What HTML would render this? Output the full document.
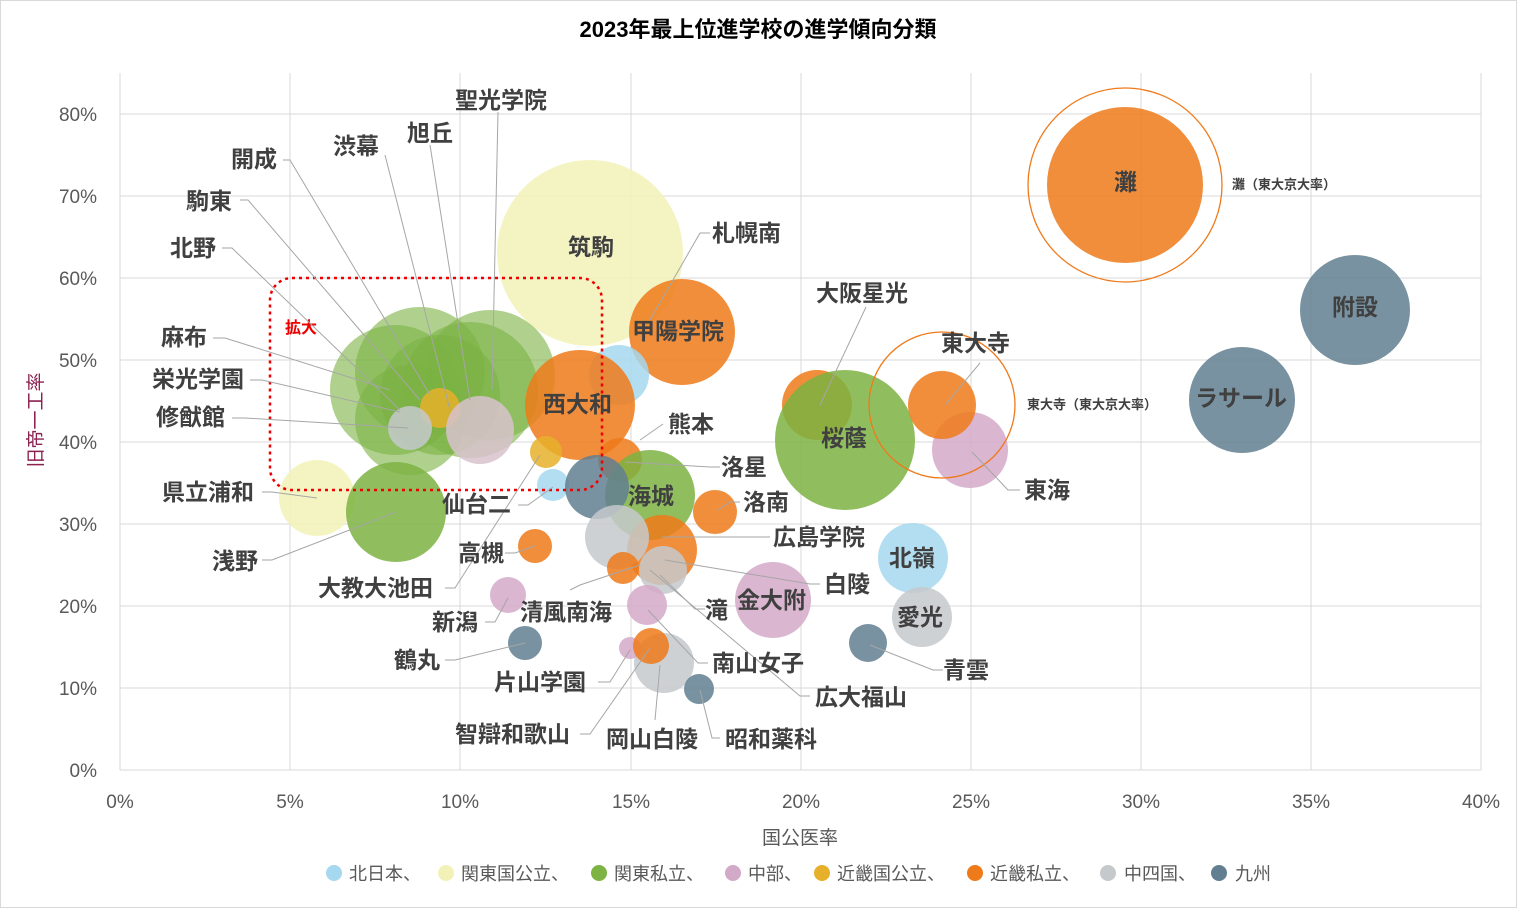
<!DOCTYPE html>
<html><head><meta charset="utf-8"><style>
html,body{margin:0;padding:0;background:#fff;}
svg{display:block;font-family:"Liberation Sans","Noto Sans CJK JP",sans-serif;}
.t{font-size:19px;fill:#595959;}
.l{font-size:23px;font-weight:bold;fill:#404040;}
.ln{stroke:#a6a6a6;stroke-width:1;fill:none;}
</style></head><body>
<svg width="1517" height="908" viewBox="0 0 1517 908">
<rect x="0.5" y="0.5" width="1516" height="907" fill="#fff" stroke="#d9d9d9"/>
<text x="758" y="37" text-anchor="middle" font-size="22" font-weight="bold" fill="#000">2023年最上位進学校の進学傾向分類</text>
<g stroke="#d9d9d9" stroke-width="1">
<line x1="120" y1="114" x2="1481" y2="114"/><line x1="120" y1="196" x2="1481" y2="196"/>
<line x1="120" y1="278" x2="1481" y2="278"/><line x1="120" y1="360" x2="1481" y2="360"/>
<line x1="120" y1="442" x2="1481" y2="442"/><line x1="120" y1="524" x2="1481" y2="524"/>
<line x1="120" y1="606" x2="1481" y2="606"/><line x1="120" y1="688" x2="1481" y2="688"/>
<line x1="120" y1="770" x2="1481" y2="770"/>
<line x1="120" y1="73" x2="120" y2="770"/><line x1="290" y1="73" x2="290" y2="770"/>
<line x1="460" y1="73" x2="460" y2="770"/><line x1="631" y1="73" x2="631" y2="770"/>
<line x1="801" y1="73" x2="801" y2="770"/><line x1="971" y1="73" x2="971" y2="770"/>
<line x1="1141" y1="73" x2="1141" y2="770"/><line x1="1311" y1="73" x2="1311" y2="770"/>
<line x1="1481" y1="73" x2="1481" y2="770"/>
</g>
<g class="t" text-anchor="end">
<text x="97" y="121">80%</text><text x="97" y="203">70%</text><text x="97" y="285">60%</text>
<text x="97" y="367">50%</text><text x="97" y="449">40%</text><text x="97" y="531">30%</text>
<text x="97" y="613">20%</text><text x="97" y="695">10%</text><text x="97" y="777">0%</text>
</g>
<g class="t" text-anchor="middle">
<text x="120" y="808">0%</text><text x="290" y="808">5%</text><text x="460" y="808">10%</text>
<text x="631" y="808">15%</text><text x="801" y="808">20%</text><text x="971" y="808">25%</text>
<text x="1141" y="808">30%</text><text x="1311" y="808">35%</text><text x="1481" y="808">40%</text>
</g>
<text x="800" y="844" text-anchor="middle" font-size="19" fill="#595959">国公医率</text>
<text transform="translate(42,420) rotate(-90)" text-anchor="middle" font-size="19" fill="#8b2252">旧帝一工率</text>
<g fill-opacity="0.85">
<circle cx="590" cy="253" r="93" fill="#f2f2b8"/>
<circle cx="317" cy="498" r="38" fill="#f2f2b8"/>
<circle cx="1355" cy="310" r="55" fill="#617f91"/>
<circle cx="1242" cy="400" r="53" fill="#617f91"/>
<circle cx="1125" cy="185" r="78" fill="#ef7a1a"/>
<circle cx="817" cy="405" r="35" fill="#ef7a1a"/>
<circle cx="845" cy="440" r="70" fill="#7cb342"/>
<circle cx="970" cy="450" r="38" fill="#d3a9c8"/>
<circle cx="942" cy="405" r="34" fill="#ef7a1a"/>
<circle cx="682" cy="332" r="53" fill="#ef7a1a"/>
<circle cx="913" cy="558" r="35" fill="#a6d8ef"/>
<circle cx="922" cy="617" r="30" fill="#c5c9cc"/>
<circle cx="868" cy="643" r="19" fill="#617f91"/>
<circle cx="773" cy="600" r="38" fill="#d3a9c8"/>
<circle cx="619" cy="375" r="30" fill="#a6d8ef"/>
<circle cx="395" cy="390" r="65" fill="#7cb342" fill-opacity="0.6"/>
<circle cx="420" cy="372" r="65" fill="#7cb342" fill-opacity="0.6"/>
<circle cx="490" cy="375" r="65" fill="#7cb342" fill-opacity="0.6"/>
<circle cx="470" cy="390" r="68" fill="#7cb342" fill-opacity="0.6"/>
<circle cx="440" cy="395" r="60" fill="#7cb342" fill-opacity="0.6"/>
<circle cx="410" cy="420" r="55" fill="#7cb342" fill-opacity="0.6"/>
<circle cx="396" cy="512" r="50" fill="#7cb342"/>
<circle cx="440" cy="408" r="20" fill="#e6b02a"/>
<circle cx="410" cy="428" r="22" fill="#c5c9cc"/>
<circle cx="480" cy="430" r="34" fill="#d8c2cc"/>
<circle cx="580" cy="405" r="55" fill="#ef7a1a"/>
<circle cx="546" cy="452" r="16" fill="#e6b02a"/>
<circle cx="620" cy="460" r="22" fill="#ef7a1a"/>
<circle cx="650" cy="495" r="45" fill="#7cb342"/>
<circle cx="553" cy="485" r="16" fill="#a6d8ef"/>
<circle cx="597" cy="487" r="32" fill="#617f91"/>
<circle cx="715" cy="512" r="22" fill="#ef7a1a"/>
<circle cx="662" cy="550" r="35" fill="#ef7a1a"/>
<circle cx="617" cy="537" r="32" fill="#c5c9cc"/>
<circle cx="663" cy="570" r="24" fill="#c5c9cc"/>
<circle cx="623" cy="568" r="16" fill="#ef7a1a"/>
<circle cx="647" cy="605" r="20" fill="#d3a9c8"/>
<circle cx="535" cy="546" r="17" fill="#ef7a1a"/>
<circle cx="508" cy="595" r="18" fill="#d3a9c8"/>
<circle cx="525" cy="643" r="17" fill="#617f91"/>
<circle cx="664" cy="663" r="30" fill="#c5c9cc"/>
<circle cx="630" cy="648" r="11" fill="#d3a9c8"/>
<circle cx="651" cy="646" r="18" fill="#ef7a1a"/>
<circle cx="699" cy="689" r="15" fill="#617f91"/>
</g>
<circle cx="1125" cy="185" r="97" fill="none" stroke="#ef7a1a" stroke-width="1.3"/>
<circle cx="942" cy="405" r="73" fill="none" stroke="#ef7a1a" stroke-width="1.3"/>
<rect x="270" y="278" width="332" height="212" rx="22" fill="none" stroke="#e00" stroke-width="2.5" stroke-dasharray="3,4"/>
<text x="285" y="333" font-size="16" font-weight="bold" fill="#e00">拡大</text>
<g class="ln">
<polyline points="498,112 492,390"/>
<polyline points="430,145 470,400"/>
<polyline points="385,155 450,410"/>
<polyline points="283,160 290,160 430,395"/>
<polyline points="240,200 248,200 420,400"/>
<polyline points="222,248 232,248 400,410"/>
<polyline points="213,338 225,338 390,390"/>
<polyline points="250,380 262,380 400,412"/>
<polyline points="232,418 245,418 408,428"/>
<polyline points="262,492 272,492 317,498"/>
<polyline points="262,560 272,560 396,512"/>
<polyline points="445,588 455,588 540,455"/>
<polyline points="518,505 528,505 553,487"/>
<polyline points="710,233 700,233 650,320"/>
<polyline points="866,307 820,405"/>
<polyline points="980,363 945,405"/>
<polyline points="1020,490 1008,490 972,452"/>
<polyline points="663,424 640,440"/>
<polyline points="720,467 710,467 625,462"/>
<polyline points="740,502 730,502 718,510"/>
<polyline points="770,537 760,537 662,537"/>
<polyline points="820,584 810,584 665,560"/>
<polyline points="705,609 695,609 660,575"/>
<polyline points="708,663 698,663 648,610"/>
<polyline points="810,696 800,696 650,570"/>
<polyline points="943,670 933,670 870,645"/>
<polyline points="598,682 610,682 630,650"/>
<polyline points="580,734 590,734 650,648"/>
<polyline points="655,720 660,665"/>
<polyline points="720,738 712,738 700,690"/>
<polyline points="445,660 455,660 525,643"/>
<polyline points="485,622 495,622 508,598"/>
<polyline points="505,553 515,553 535,546"/>
<polyline points="570,590 580,585 640,565"/>
</g>
<g class="l">
<text x="455" y="108">聖光学院</text>
<text x="407" y="141">旭丘</text>
<text x="333" y="154">渋幕</text>
<text x="231" y="167">開成</text>
<text x="186" y="209">駒東</text>
<text x="170" y="256">北野</text>
<text x="161" y="345">麻布</text>
<text x="152" y="387">栄光学園</text>
<text x="156" y="425">修猷館</text>
<text x="162" y="500">県立浦和</text>
<text x="212" y="569">浅野</text>
<text x="318" y="596">大教大池田</text>
<text x="442" y="512">仙台二</text>
<text x="458" y="561">高槻</text>
<text x="432" y="630">新潟</text>
<text x="394" y="668">鶴丸</text>
<text x="520" y="620">清風南海</text>
<text x="494" y="690">片山学園</text>
<text x="455" y="742">智辯和歌山</text>
<text x="606" y="747">岡山白陵</text>
<text x="725" y="747">昭和薬科</text>
<text x="712" y="671">南山女子</text>
<text x="815" y="705">広大福山</text>
<text x="705" y="618">滝</text>
<text x="824" y="592">白陵</text>
<text x="773" y="545">広島学院</text>
<text x="743" y="510">洛南</text>
<text x="721" y="475">洛星</text>
<text x="668" y="432">熊本</text>
<text x="712" y="241">札幌南</text>
<text x="816" y="301">大阪星光</text>
<text x="941" y="351">東大寺</text>
<text x="1024" y="498">東海</text>
<text x="943" y="678">青雲</text>
<text x="568" y="255">筑駒</text>
<text x="1114" y="190">灘</text>
<text x="1332" y="315">附設</text>
<text x="1195" y="406">ラサール</text>
<text x="821" y="446">桜蔭</text>
<text x="632" y="339">甲陽学院</text>
<text x="543" y="412">西大和</text>
<text x="628" y="504">海城</text>
<text x="889" y="566">北嶺</text>
<text x="897" y="625">愛光</text>
<text x="737" y="608">金大附</text>
</g>
<text x="1232" y="189" font-size="13" font-weight="bold" fill="#404040">灘（東大京大率）</text>
<text x="1027" y="409" font-size="13" font-weight="bold" fill="#404040">東大寺（東大京大率）</text>
<g font-size="18" fill="#595959">
<circle cx="334" cy="873" r="8" fill="#a6d8ef"/><text x="349" y="880">北日本、</text>
<circle cx="446" cy="873" r="8" fill="#f2f2b8"/><text x="461" y="880">関東国公立、</text>
<circle cx="599" cy="873" r="8" fill="#7cb342"/><text x="614" y="880">関東私立、</text>
<circle cx="733" cy="873" r="8" fill="#d3a9c8"/><text x="748" y="880">中部、</text>
<circle cx="822" cy="873" r="8" fill="#e6b02a"/><text x="837" y="880">近畿国公立、</text>
<circle cx="975" cy="873" r="8" fill="#ef7a1a"/><text x="990" y="880">近畿私立、</text>
<circle cx="1108" cy="873" r="8" fill="#c5c9cc"/><text x="1124" y="880">中四国、</text>
<circle cx="1219" cy="873" r="8" fill="#617f91"/><text x="1235" y="880">九州</text>
</g>
</svg>
</body></html>
